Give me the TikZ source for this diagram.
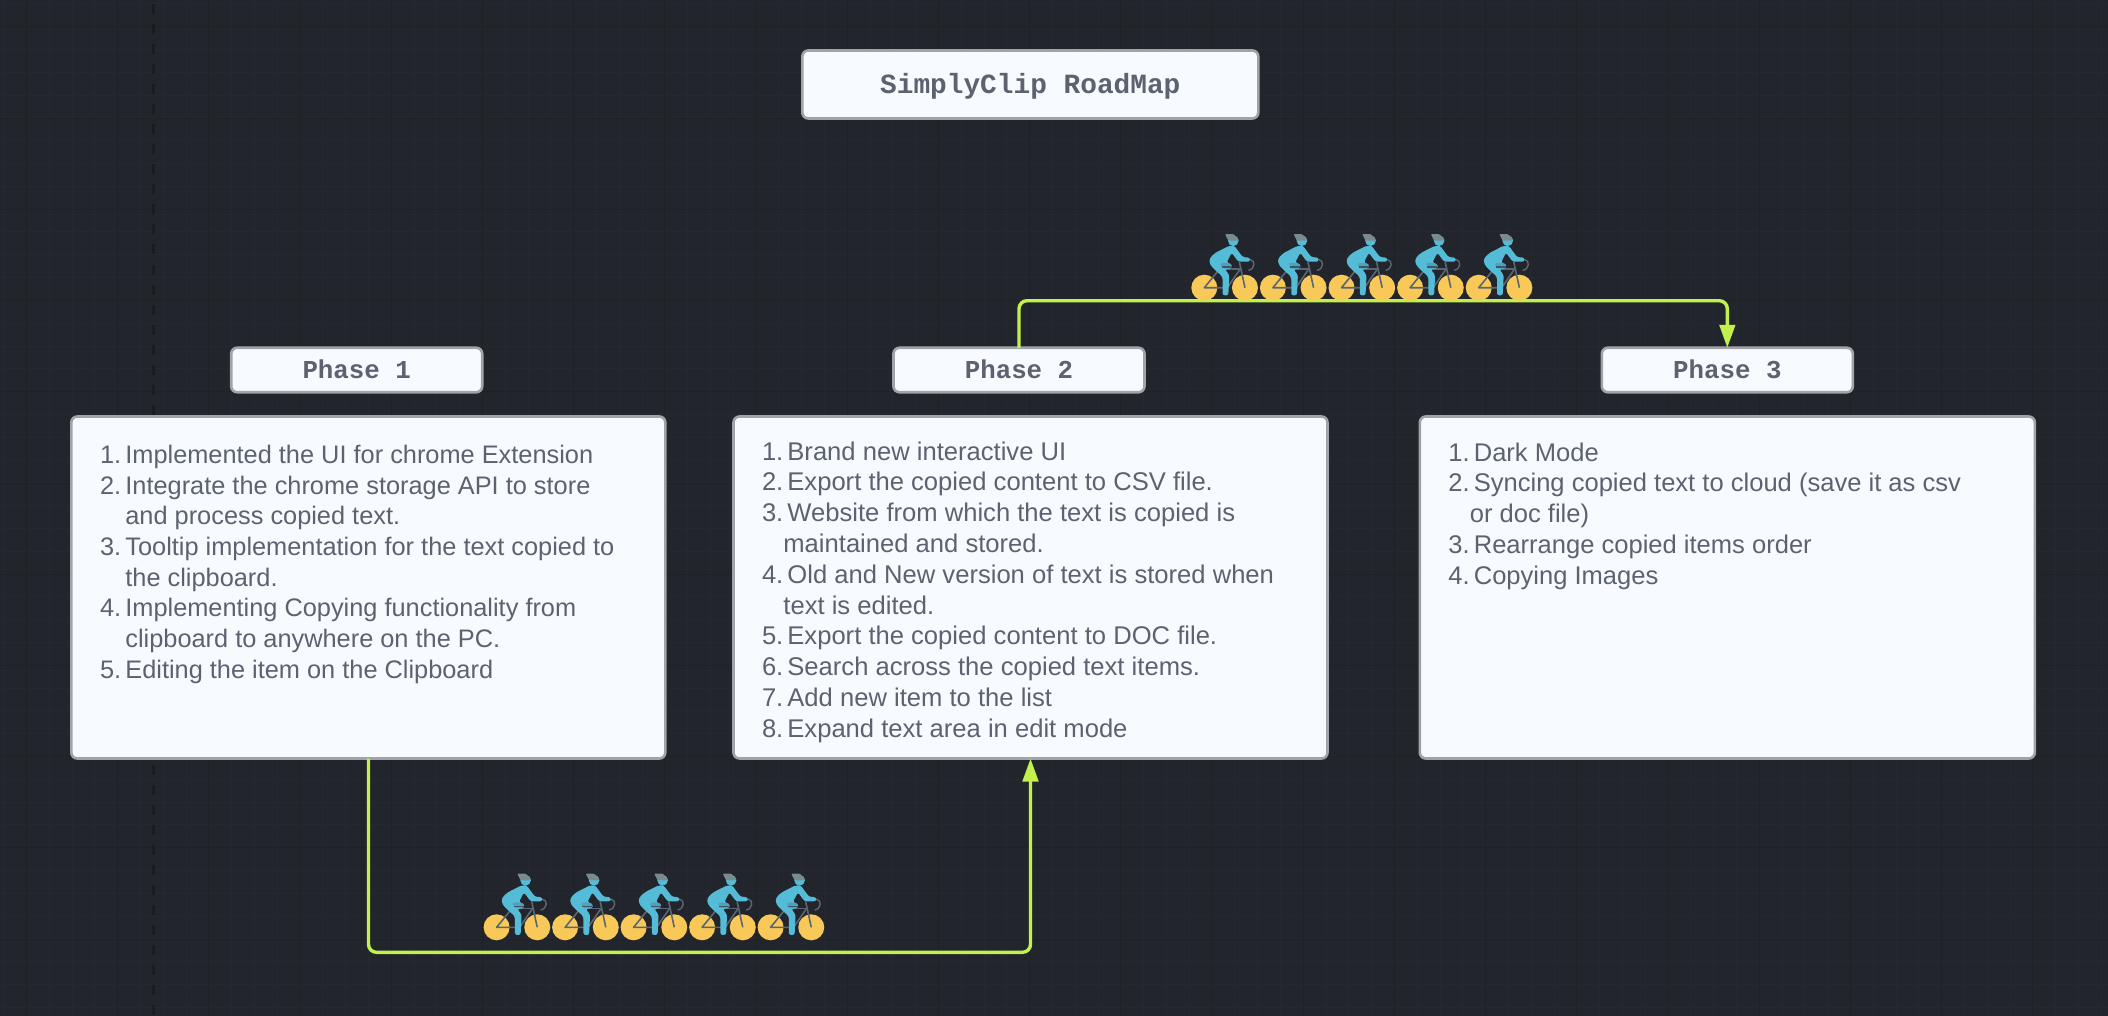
\documentclass[tikz,border=0pt]{standalone}
\usepackage{fontspec}
\setmainfont{Liberation Sans}
\setmonofont{Liberation Mono}
\usetikzlibrary{arrows.meta}
\definecolor{bgc}{HTML}{22252C}
\definecolor{gridminor}{HTML}{25282F}
\definecolor{gridmajor}{HTML}{1E2126}
\definecolor{dashc}{HTML}{1A1C20}
\definecolor{boxfill}{HTML}{F7FBFF}
\definecolor{boxline}{HTML}{A0A4AA}
\definecolor{txt}{HTML}{5C6270}
\definecolor{conn}{HTML}{C2F04C}
\definecolor{wheelc}{HTML}{F8C958}
\definecolor{bodyc}{HTML}{55BCD7}
\definecolor{bodyd}{HTML}{4AA3C2}
\definecolor{framec}{HTML}{5C6670}
\definecolor{helmetc}{HTML}{7B8A8C}
\newcommand{\li}[2]{\makebox[25.4pt][l]{#1}#2\par}
\newcommand{\lw}[1]{\hspace*{21.4pt}#1\par}
\newcommand{\lz}[1]{\hspace*{25.4pt}#1\par}
\tikzset{
  x=1pt,y=-1pt,
  boxstyle/.style={draw=boxline,fill=boxfill,line width=2.6pt,rounded corners=6pt,inner sep=0pt,outer sep=0pt,text=txt},
  titlebox/.style={boxstyle,font=\fontsize{27.8}{30}\selectfont\ttfamily\bfseries,text height=17.6pt,text depth=0pt},
  phasebox/.style={boxstyle,font=\fontsize{25.8}{30}\selectfont\ttfamily\bfseries,text height=16.6pt,text depth=0pt},
  listtext/.style={anchor=base west,inner sep=0pt,outer sep=0pt,text=txt},
  connector/.style={draw=conn,line width=3.4pt,rounded corners=8pt,-{Triangle[length=23pt,width=15.5pt]}},
  rider/.pic={
    \begin{scope}[x=0.3333pt,y=-0.3333pt]
      \fill[wheelc] (0,0) circle[radius=39];
      \fill[wheelc] (122,0) circle[radius=39];
      \draw[framec,line width=1.6pt,line join=round] (0,0)--(69,0)--(45,-55)--cycle;
      \draw[framec,line width=1.6pt] (69,0)--(107,-55);
      \draw[framec,line width=1.6pt] (55,-56)--(110,-56);
      \draw[framec,line width=1.6pt] (105,-78)--(122,0);
      \draw[framec,line width=1.4pt] (137,-85)..controls (155,-82) and (152,-55)..(132,-52);
      \fill[bodyc,rounded corners=2.2pt]
        (75,-126)--(30,-103)--(15,-86)--(17,-70)--(30,-55)--(55,-33)--(55,23)--(72,23)--(75,-38)--(62,-55)--(80,-57)--(84,-68)--(67,-76)--(82,-105)--(102,-78)--(137,-78)--(137,-90)--(115,-92)--(90,-126)--cycle;
      \fill[bodyd,rounded corners=1.5pt] (47,-74)--(72,-75)--(84,-68)--(80,-57)--(55,-57)--cycle;
      \draw[framec!80!black,line width=1.6pt] (52,-62)--(82,-62);
      \fill[bodyc] (87,-141) circle[radius=16];
      \fill[helmetc,rounded corners=1pt] (62,-161)--(87,-161)--(102,-147)--(103,-141)--(72,-141)--cycle;
    \end{scope}
  }
}
\begin{document}
\begin{tikzpicture}
  \useasboundingbox (0,0) rectangle (2108,1016);
  \fill[bgc] (0,0) rectangle (2108,1016);
  \foreach \k in {0,...,92} {
    \draw[gridminor,line width=1pt] ({3.7+22.8*\k},0) -- ({3.7+22.8*\k},1016);
  }
  \foreach \k in {0,...,44} {
    \draw[gridminor,line width=1pt] (0,{4+22.8*\k}) -- (2108,{4+22.8*\k});
  }
  \foreach \k in {0,...,23} {
    \draw[gridmajor,line width=1pt] ({26.5+91.2*\k},0) -- ({26.5+91.2*\k},1016);
  }
  \foreach \k in {0,...,11} {
    \draw[gridmajor,line width=1pt] (0,{27+91.2*\k}) -- (2108,{27+91.2*\k});
  }
  \draw[dashc,line width=3pt,dash pattern=on 10pt off 10pt] (153,4.5) -- (153,1016);

  \node[titlebox,minimum width=456pt,minimum height=68pt] (title) at (1030.3,84.5) {SimplyClip RoadMap};
  \node[phasebox,minimum width=251pt,minimum height=44.5pt] (p1) at (356.7,370) {Phase 1};
  \node[phasebox,minimum width=251pt,minimum height=44.5pt] (p2) at (1019,370) {Phase 2};
  \node[phasebox,minimum width=251pt,minimum height=44.5pt] (p3) at (1727.3,370) {Phase 3};
  \node[boxstyle,minimum width=594pt,minimum height=342pt] (b1) at (368.3,587.5) {};
  \node[boxstyle,minimum width=594pt,minimum height=342pt] (b2) at (1030.5,587.5) {};
  \node[boxstyle,minimum width=615pt,minimum height=342pt] (b3) at (1727.3,587.5) {};

  \node[listtext] (t1) at (100,463.5) {\parbox[t]{560pt}{\fontsize{25.35}{30.65}\selectfont\parindent=0pt
    \li{1.}{Implemented the UI for chrome Extension}
    \li{2.}{Integrate the chrome storage API to store}
    \lz{and process copied text.}
    \li{3.}{Tooltip implementation for the text copied to}
    \lz{the clipboard.}
    \li{4.}{Implementing Copying functionality from}
    \lz{clipboard to anywhere on the PC.}
    \li{5.}{Editing the item on the Clipboard}}};
  \node[listtext] (t2) at (762,460) {\parbox[t]{560pt}{\fontsize{25.6}{30.8}\selectfont\parindent=0pt
    \li{1.}{Brand new interactive UI}
    \li{2.}{Export the copied content to CSV file.}
    \li{3.}{Website from which the text is copied is}
    \lw{maintained and stored.}
    \li{4.}{Old and New version of text is stored when}
    \lw{text is edited.}
    \li{5.}{Export the copied content to DOC file.}
    \li{6.}{Search across the copied text items.}
    \li{7.}{Add new item to the list}
    \li{8.}{Expand text area in edit mode}}};
  \node[listtext] (t3) at (1448.4,461.2) {\parbox[t]{560pt}{\fontsize{25.55}{30.7}\selectfont\parindent=0pt
    \li{1.}{Dark Mode}
    \li{2.}{Syncing copied text to cloud (save it as csv}
    \lw{or doc file)}
    \li{3.}{Rearrange copied items order}
    \li{4.}{Copying Images}}};

  \coordinate (topbend) at (1019,300.7);
  \coordinate (botbend) at (368.5,952.3);
  \draw[connector] (p2.north) -- (topbend) -| (p3.north);
  \draw[connector] (b1.south) ++(0.2,0) -- (botbend) -| (b2.south);

  \foreach \i in {0,...,4} {
    \pic at ({1204.3+68.6*\i},287.7) {rider};
    \pic at ({496.6+68.5*\i},927.3) {rider};
  }
\end{tikzpicture}
\end{document}
